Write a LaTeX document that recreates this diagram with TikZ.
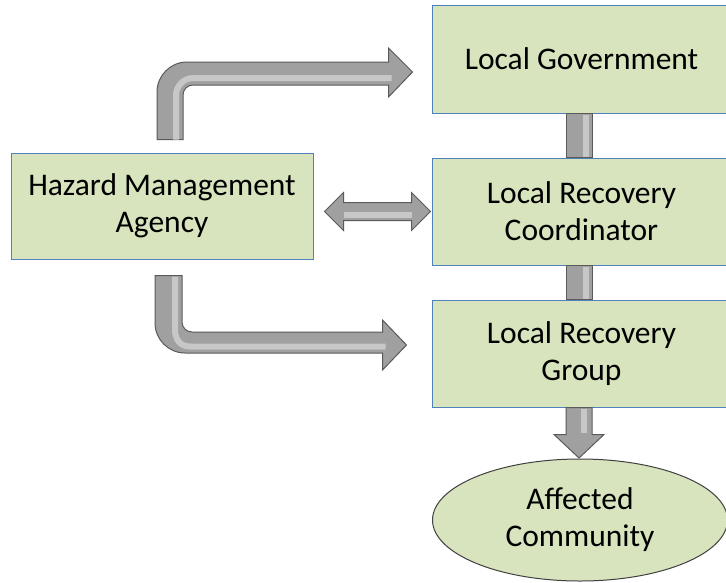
\documentclass[tikz,border=0pt]{standalone}
\usepackage{fontspec}
\setmainfont{Carlito}
\usetikzlibrary{calc,shapes.geometric}
\definecolor{boxfill}{HTML}{D7E4BD}
\definecolor{boxline}{HTML}{4F81BD}
\definecolor{arrfill}{HTML}{A0A0A0}
\definecolor{arrline}{HTML}{5A5A5A}
\definecolor{arrhi}{HTML}{E8E8E8}
\begin{document}
\begin{tikzpicture}[x=1pt,y=1pt,
  txt/.style={align=center, font=\fontsize{31.5}{37}\selectfont, text=black},
  box/.style={txt, draw=boxline, line width=1pt, fill=boxfill, inner sep=0pt,
    minimum width=299pt, minimum height=108pt},
  oval/.style={txt, ellipse, draw=black!75, line width=1pt, fill=boxfill, inner sep=0pt,
    minimum width=295pt, minimum height=122pt},
  blockarrow/.style={fill=arrfill, draw=arrline, line width=1pt, line join=miter},
  shine/.style={draw=arrhi, line width=6pt, opacity=0.55, line cap=butt}]
\clip (0,0) rectangle (726,-582);
\fill[white] (0,0) rectangle (726,-582);

% nodes
\node[box] (lg)  at (581.5,-59)    {Local Government};
\node[box, minimum height=107pt] (lrc) at (581.5,-211.5) {Local Recovery\\Coordinator};
\node[box, minimum height=107pt] (lrg) at (581.5,-353.5) {Local Recovery\\Group};
\node[box, minimum width=302pt, minimum height=106pt] (hma) at (162,-206) {Hazard Management\\Agency};
\node[oval] (aff) at (580,-520) {Affected\\Community};

% vertical links between the right-hand boxes
\path[blockarrow] ($(lg.south)+(-15.5,0)$) rectangle ($(lrc.north)+(10.5,0)$);
\path[shine] ($(lg.south)+(4,-1)$) -- ($(lrc.north)+(4,1)$);
\path[blockarrow] ($(lrc.south)+(-15.5,0)$) rectangle ($(lrg.north)+(10.5,0)$);
\path[shine] ($(lrc.south)+(4,-1)$) -- ($(lrg.north)+(4,1)$);

% group -> community
\path[blockarrow] let \p1=(lrg.south), \p2=(aff.north) in
  (\x2-14pt,\y1) -- (\x2-14pt,\y2+24pt) -- (\x2-26pt,\y2+24pt) -- (\x2-1pt,\y2+0.5pt)
  -- (\x2+24pt,\y2+24pt) -- (\x2+12pt,\y2+24pt) -- (\x2+12pt,\y1) -- cycle;
\path[shine] let \p1=(lrg.south), \p2=(aff.north) in
  (\x2+4pt,\y1-1pt) -- (\x2+4pt,\y2+26pt);

% agency -> local government
\path[blockarrow] let \p1=(hma.north), \p2=(lg.west) in
  (\x1-5pt,\y1+13pt) -- (\x1-5pt,\y2-33pt)
  .. controls (\x1-5pt,\y2-16.5pt) and (\x1+8.5pt,\y2-3pt) .. (\x1+25pt,\y2-3pt)
  -- (\x2-43pt,\y2-3pt) -- (\x2-43pt,\y2+11pt) -- (\x2-19pt,\y2-13pt)
  -- (\x2-43pt,\y2-38pt) -- (\x2-43pt,\y2-26pt) -- (\x1+31pt,\y2-26pt)
  .. controls (\x1+25.5pt,\y2-26pt) and (\x1+21pt,\y2-30.5pt) .. (\x1+21pt,\y2-36pt)
  -- (\x1+21pt,\y1+13pt) -- cycle;
\path[shine] let \p1=(hma.north), \p2=(lg.west) in
  (\x1+14pt,\y1+12pt) -- (\x1+14pt,\y2-36pt)
  .. controls (\x1+14pt,\y2-27pt) and (\x1+22pt,\y2-19pt) .. (\x1+31pt,\y2-19pt)
  -- (\x2-40pt,\y2-19pt);

% agency <-> coordinator
\path[blockarrow] let \p1=(hma.east), \p2=(lrc.west) in
  (\x1+11pt,\y2) -- (\x1+30pt,\y2+19pt) -- (\x1+30pt,\y2+9pt) -- (\x2-20pt,\y2+9pt)
  -- (\x2-20pt,\y2+19pt) -- (\x2-1pt,\y2) -- (\x2-20pt,\y2-19pt) -- (\x2-20pt,\y2-9pt)
  -- (\x1+30pt,\y2-9pt) -- (\x1+30pt,\y2-19pt) -- cycle;
\path[shine] let \p1=(hma.east), \p2=(lrc.west) in
  (\x1+30pt,\y2-3pt) -- (\x2-20pt,\y2-3pt);

% agency -> recovery group
\path[blockarrow] let \p1=(hma.south), \p2=(lrg.west) in
  (\x1-7pt,\y1-16pt) -- (\x1-7pt,\y2+30.5pt)
  .. controls (\x1-7pt,\y2+14pt) and (\x1+6.5pt,\y2+0.5pt) .. (\x1+23pt,\y2+0.5pt)
  -- (\x2-49pt,\y2+0.5pt) -- (\x2-49pt,\y2-16.5pt) -- (\x2-25pt,\y2+8.5pt)
  -- (\x2-49pt,\y2+33.5pt) -- (\x2-49pt,\y2+21.5pt) -- (\x1+30pt,\y2+21.5pt)
  .. controls (\x1+24.5pt,\y2+21.5pt) and (\x1+20pt,\y2+26pt) .. (\x1+20pt,\y2+31.5pt)
  -- (\x1+20pt,\y1-16pt) -- cycle;
\path[shine] let \p1=(hma.south), \p2=(lrg.west) in
  (\x1+13pt,\y1-17pt) -- (\x1+13pt,\y2+24pt)
  .. controls (\x1+13pt,\y2+14pt) and (\x1+18pt,\y2+7pt) .. (\x1+28pt,\y2+7pt)
  -- (\x2-46pt,\y2+7pt);
\end{tikzpicture}
\end{document}
